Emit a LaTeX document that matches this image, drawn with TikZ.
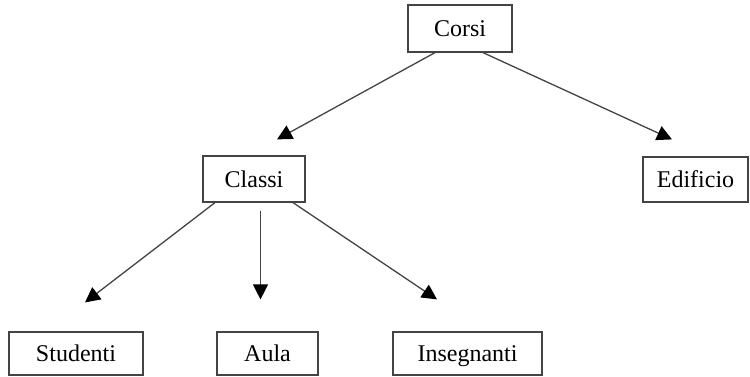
\documentclass[tikz,border=0pt]{standalone}
\usepackage{fontspec}
\setmainfont{Liberation Serif}
\usetikzlibrary{arrows.meta}
\definecolor{edge}{HTML}{444444}
\begin{document}
\begin{tikzpicture}[x=0.5pt,y=-0.5pt,
  box/.style={draw=edge,line width=0.6pt,inner sep=0pt,text height=10.5pt,text depth=2.5pt,font=\fontsize{12pt}{14pt}\selectfont},
  arr/.style={draw=edge,line width=0.65pt,-{Triangle[length=7.5pt,width=7.5pt,fill=black,color=black]}}]
\useasboundingbox[fill=white] (0,0) rectangle (750,376);
\node (corsi) [box,minimum width=52pt,minimum height=23.5pt] at (460,28.5) {Corsi};
\node (classi) [box,minimum width=51pt,minimum height=23pt] at (254,179) {Classi};
\node (edificio) [box,minimum width=52.5pt,minimum height=22.5pt] at (695.5,179.5) {Edificio};
\node (studenti) [box,minimum width=67pt,minimum height=21.5pt] at (76,353.5) {Studenti};
\node (aula) [box,minimum width=50.5pt,minimum height=21.5pt] at (267.5,353.5) {Aula};
\node (insegnanti) [box,minimum width=74.5pt,minimum height=21.5pt] at (467.5,353.5) {Insegnanti};
\draw[arr] ([xshift=-12.5pt]corsi.south) -- ([xshift=11.5pt,yshift=8pt]classi.north);
\draw[arr] ([xshift=11.5pt]corsi.south) -- ([xshift=-11.75pt,yshift=8.5pt]edificio.north);
\draw[arr] ([xshift=-19.5pt]classi.south) -- ([xshift=4.5pt,yshift=14.5pt]studenti.north);
\draw[arr] ([xshift=3.25pt,yshift=-4pt]classi.south) -- ([xshift=-3.5pt,yshift=16pt]aula.north);
\draw[arr] ([xshift=19.5pt]classi.south) -- ([xshift=-15.25pt,yshift=16pt]insegnanti.north);
\end{tikzpicture}
\end{document}
